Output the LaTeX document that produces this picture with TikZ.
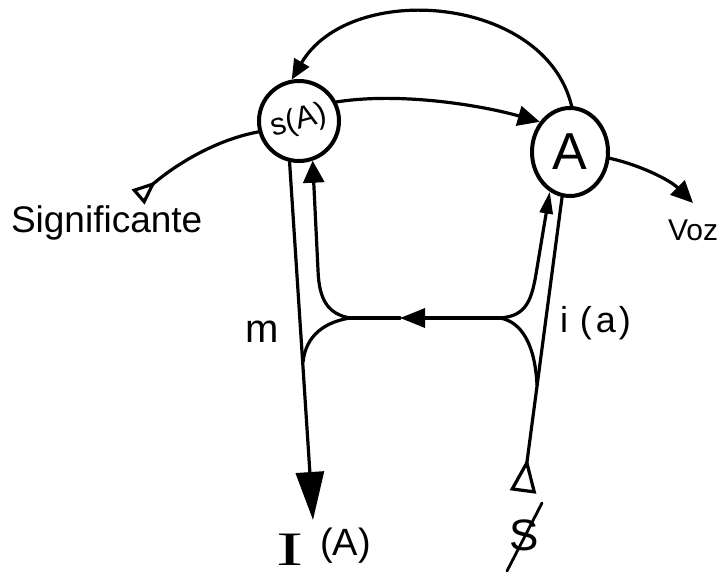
\documentclass[tikz,border=0pt]{standalone}
\usepackage{fontspec}
\setmainfont{Liberation Sans}
\newfontfamily\serifI{Liberation Serif}
\usetikzlibrary{arrows.meta,shapes.geometric,calc}
\begin{document}
\begin{tikzpicture}[x=1pt,y=-1pt,
  ln/.style={line width=3.2pt, line cap=round, line join=round},
  ring/.style={draw, line width=4pt, inner sep=0pt},
  lbl/.style={inner sep=0pt, outer sep=0pt}]
\fill[white] (0,0) rectangle (723,577);
\useasboundingbox (0,0) rectangle (723,577);

% main nodes
\node[circle, ring, minimum size=80pt, font=\fontsize{31}{34}\selectfont] (sA) at (299,121) {\rotatebox{15}{s(A)}};
\node[ellipse, ring, minimum width=76pt, minimum height=88pt, font=\fontsize{52}{56}\selectfont] (A) at (570,152) {A\hspace{14pt}};

% free ends and junctions
\coordinate (sigstart) at (138,197);
\coordinate (vozend) at (693,203);
\coordinate (jl) at (350,318);
\coordinate (jr) at (500,318);
\coordinate (hm) at (400,318);
\coordinate (IAend) at (313,520);
\coordinate (Sstart) at (523,492);
\coordinate (ml) at (303,362);
\coordinate (mr) at (537,385);

% signifier chain
\draw[ln, {Triangle[open,reversed,length=24pt,width=19pt]}-] (sigstart) .. controls (175,165) and (215,140) .. (sA.195);
\draw[ln, -{Triangle[length=22pt,width=20pt]}] (sA.27) .. controls (400,92) and (480,105) .. (A.135);
\draw[ln, -{Triangle[length=22pt,width=20pt]}] (A.-9) .. controls (640,165) and (670,180) .. (vozend);
\draw[ln, -{Triangle[length=20pt,width=17pt]}] (A.88) .. controls (545,-5) and (350,-20) .. (sA.100);

% left side
\draw[ln, -{Triangle[length=48pt,width=28pt]}] (sA.257) -- (IAend);
\draw[ln, -{Triangle[length=22pt,width=21pt]}] (jl) .. controls (328,314) and (319,300) .. (318,270) -- (sA.289);
\draw[ln] (jl) .. controls (325,322) and (306,335) .. (ml);

% horizontal
\draw[ln, -{Triangle[length=25pt,width=19pt]}] (jr) -- (hm);
\draw[ln] (hm) -- (jl);

% right side
\draw[ln, -{Triangle[length=22pt,width=13pt]}] (jr) .. controls (527,316) and (532,300) .. (537,268) -- (A.243);
\draw[ln] (jr) .. controls (522,322) and (535,345) .. (mr);
\draw[ln, {Triangle[open,reversed,length=34pt,width=26pt]}-] (Sstart) -- (A.260);

% labels
\node[lbl, anchor=base west, font=\fontsize{37}{40}\selectfont] (sig) at (11,233) {Significante};
\node[lbl, anchor=base west, font=\fontsize{30}{34}\selectfont] (voz) at (668,241) {Voz};
\node[lbl, anchor=base west, font=\fontsize{40}{44}\selectfont] (m) at (245,343) {m};
\node[lbl, anchor=base west, font=\fontsize{36}{40}\selectfont] (ia) at (560,333) {i\hspace{12pt}(\hspace{4pt}a\hspace{3pt})};
\node[lbl, anchor=base west, font=\serifI\fontsize{48}{52}\selectfont] (I) at (276,565) {\scalebox{1.7}[1]{I}};
\node[lbl, anchor=base west, font=\fontsize{38}{42}\selectfont] (IA) at (320,555) {(A)};
\node[lbl, font=\fontsize{44}{48}\selectfont] (S) at (524,535) {S};
\draw[line width=2.8pt, line cap=round] ($(S.center)+(18,-32)$) -- ($(S.center)+(-17,36)$);
\end{tikzpicture}
\end{document}
